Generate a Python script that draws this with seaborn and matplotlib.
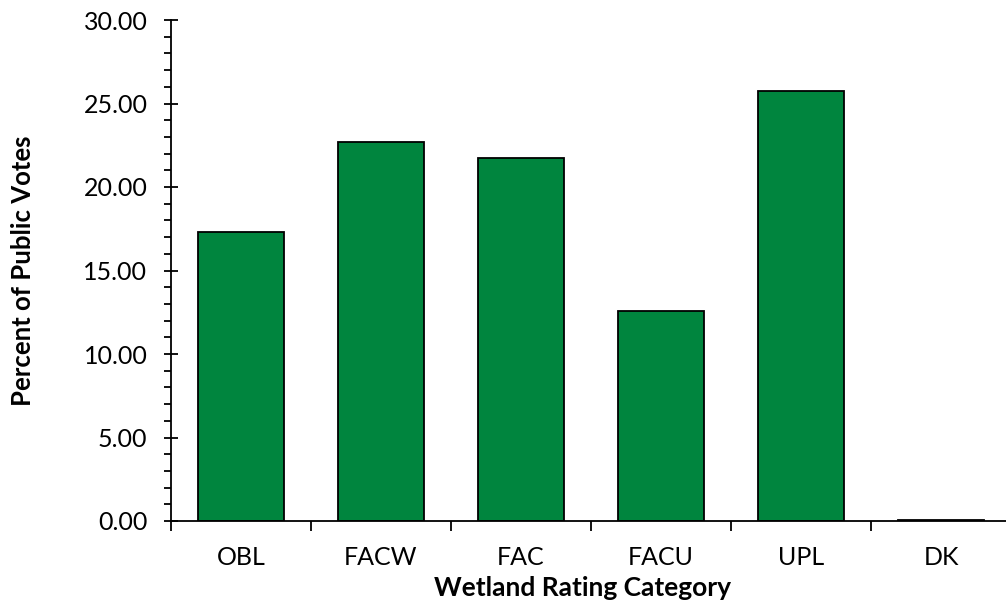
import numpy as np
import pandas as pd
import seaborn as sns
import matplotlib.pyplot as plt
from matplotlib.ticker import MultipleLocator, FixedLocator

categories = ["OBL", "FACW", "FAC", "FACU", "UPL", "DK"]
percent_votes = [17.28, 22.68, 21.76, 12.60, 25.75, 0.05]

df = pd.DataFrame({"category": categories, "percent": percent_votes})

sns.set_style("white", {"text.color": "black", "axes.labelcolor": "black",
                        "xtick.color": "black", "ytick.color": "black"})
plt.rcParams["font.family"] = ["Lato", "DejaVu Sans"]

W, H = 1006, 603
fig = plt.figure(figsize=(W / 100, H / 100), dpi=100)
ax = fig.add_axes([171 / W, 82 / H, 840 / W, 501 / H])

sns.barplot(data=df, x="category", y="percent", color="#00853E", saturation=1,
            edgecolor="black", linewidth=1.3, width=0.62, ax=ax)

ax.set_ylim(0, 30)
ax.set_xlim(-0.5, 5.5)
ax.yaxis.set_major_locator(MultipleLocator(5))
ax.yaxis.set_minor_locator(MultipleLocator(1))
ax.yaxis.set_major_formatter(plt.FuncFormatter(lambda v, p: f"{v:.2f}"))
ax.xaxis.set_minor_locator(FixedLocator(np.arange(-0.5, 6.0, 1.0)))

ax.tick_params(axis="y", which="major", direction="inout", length=10, width=1.3,
               labelsize=18, pad=12, left=True)
ax.tick_params(axis="y", which="minor", direction="out", length=5, width=1.3, left=True)
ax.tick_params(axis="x", which="major", length=0, labelsize=18, pad=18)
ax.tick_params(axis="x", which="minor", direction="out", length=7, width=1.3, bottom=True)

for s in ["top", "right"]:
    ax.spines[s].set_visible(False)
for s in ["left", "bottom"]:
    ax.spines[s].set_color("black")
    ax.spines[s].set_linewidth(1.3)

ax.set_xlabel("Wetland Rating Category", fontsize=19, fontweight="bold")
ax.set_ylabel("Percent of Public Votes", fontsize=18.5, fontweight="bold")
ax.xaxis.set_label_coords((582 - 171) / 840, -(576 - 521) / 501)
ax.yaxis.set_label_coords(-(171 - 35) / 840, 0.5)

fig.savefig("out.png", dpi=100)
plt.close(fig)
